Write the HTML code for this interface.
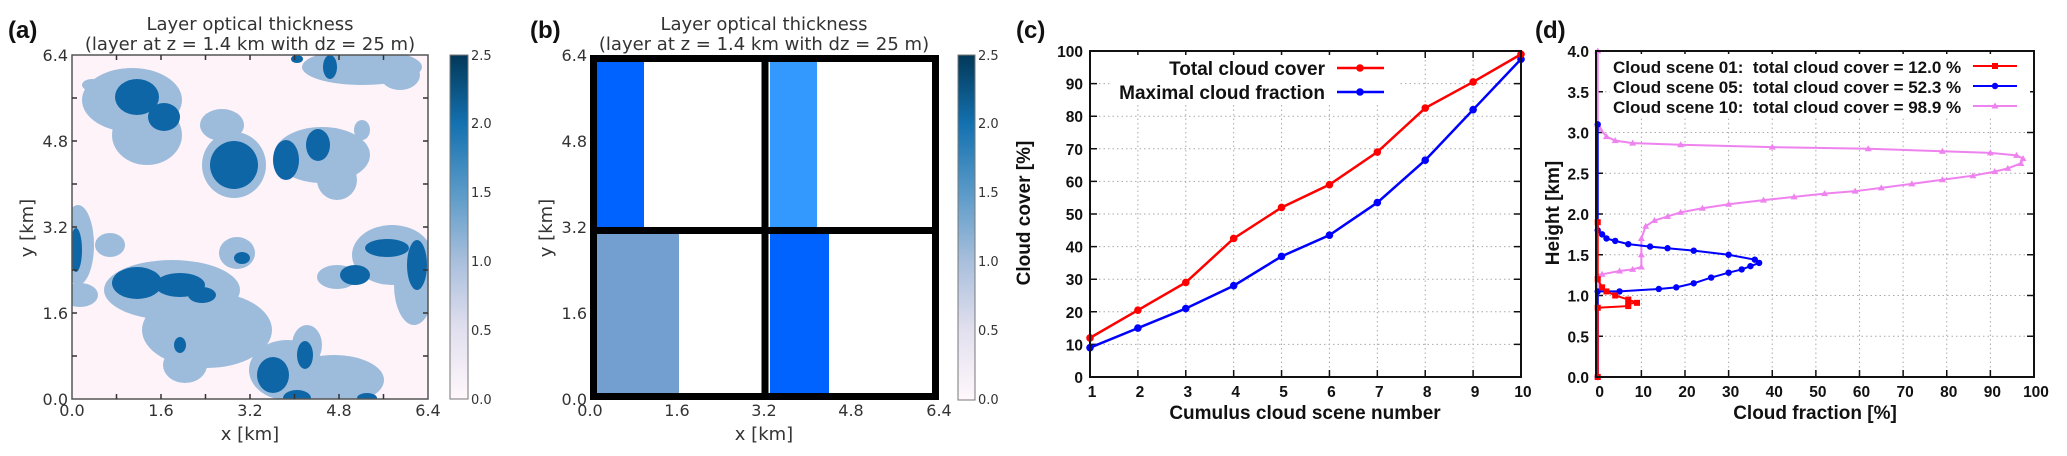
<!DOCTYPE html>
<html><head><meta charset="utf-8"><style>
html,body{margin:0;padding:0;background:#fff;width:2067px;height:456px;overflow:hidden}
svg{display:block}
.mt{font-family:"DejaVu Sans","Liberation Sans",sans-serif;fill:#333}
.gb{font-family:"Liberation Sans",sans-serif;font-weight:bold;fill:#111}
</style></head><body>
<svg id="fig" width="2067" height="456" viewBox="0 0 2067 456" xmlns="http://www.w3.org/2000/svg">
<defs>
<linearGradient id="pubu" x1="0" y1="1" x2="0" y2="0">
<stop offset="0" stop-color="#fff7fb"/><stop offset="0.2" stop-color="#e2e0ef"/><stop offset="0.4" stop-color="#a9bfdc"/><stop offset="0.6" stop-color="#5a9ac8"/><stop offset="0.8" stop-color="#1471b0"/><stop offset="1" stop-color="#023858"/>
</linearGradient>
</defs>

<!-- Panel A -->
<g>
<text class="gb" x="8" y="38" font-size="24">(a)</text>
<text class="mt" x="250" y="30" font-size="18" text-anchor="middle">Layer optical thickness</text>
<text class="mt" x="250" y="50" font-size="18" text-anchor="middle">(layer at z = 1.4 km with dz = 25 m)</text>
<svg x="72" y="55" width="356" height="344">
<rect width="356" height="344" fill="#fdf3f9"/>
<g fill="#9dbcdc">
<ellipse cx="60" cy="45" rx="50" ry="32"/><ellipse cx="75" cy="80" rx="35" ry="30"/><ellipse cx="20" cy="30" rx="10" ry="6"/>
<ellipse cx="162" cy="110" rx="32" ry="33"/><ellipse cx="150" cy="70" rx="22" ry="16"/>
<ellipse cx="250" cy="100" rx="48" ry="28"/><ellipse cx="265" cy="125" rx="20" ry="20"/><ellipse cx="290" cy="75" rx="8" ry="10"/>
<ellipse cx="290" cy="12" rx="60" ry="18"/><ellipse cx="328" cy="20" rx="20" ry="15"/>
<ellipse cx="6" cy="190" rx="16" ry="40"/><ellipse cx="8" cy="240" rx="18" ry="12"/><ellipse cx="38" cy="190" rx="15" ry="12"/>
<ellipse cx="100" cy="235" rx="68" ry="30"/><ellipse cx="135" cy="275" rx="65" ry="38"/><ellipse cx="113" cy="310" rx="22" ry="18"/>
<ellipse cx="320" cy="200" rx="40" ry="30"/><ellipse cx="342" cy="230" rx="20" ry="40"/><ellipse cx="265" cy="222" rx="20" ry="12"/>
<ellipse cx="165" cy="198" rx="18" ry="16"/>
<ellipse cx="215" cy="315" rx="38" ry="30"/><ellipse cx="262" cy="325" rx="50" ry="25"/><ellipse cx="235" cy="290" rx="15" ry="20"/>
</g>
<g fill="#0f66a6">
<ellipse cx="65" cy="42" rx="22" ry="18"/><ellipse cx="92" cy="62" rx="16" ry="14"/>
<ellipse cx="162" cy="110" rx="24" ry="24"/>
<ellipse cx="214" cy="105" rx="13" ry="20"/><ellipse cx="246" cy="90" rx="12" ry="16"/>
<ellipse cx="258" cy="12" rx="7" ry="12"/><ellipse cx="225" cy="4" rx="6" ry="4"/>
<ellipse cx="4" cy="195" rx="6" ry="22"/>
<ellipse cx="65" cy="228" rx="25" ry="16"/><ellipse cx="108" cy="230" rx="25" ry="12"/><ellipse cx="130" cy="240" rx="14" ry="8"/>
<ellipse cx="170" cy="203" rx="8" ry="6"/><ellipse cx="108" cy="290" rx="6" ry="8"/>
<ellipse cx="283" cy="220" rx="15" ry="10"/><ellipse cx="315" cy="193" rx="22" ry="9"/><ellipse cx="345" cy="210" rx="10" ry="25"/>
<ellipse cx="201" cy="320" rx="16" ry="18"/><ellipse cx="233" cy="300" rx="8" ry="14"/><ellipse cx="225" cy="343" rx="14" ry="8"/><ellipse cx="295" cy="343" rx="10" ry="5"/>
</g>
</svg>
<rect x="72" y="55" width="356" height="344" fill="none" stroke="#555" stroke-width="1.5"/>
<g stroke="#333" stroke-width="1.5">
<path d="M116.5 399v-5M161 399v-5M205.5 399v-5M250 399v-5M294.5 399v-5M339 399v-5M383.5 399v-5M116.5 55v5M161 55v5M205.5 55v5M250 55v5M294.5 55v5M339 55v5M383.5 55v5M72 98h5M72 141h5M72 184h5M72 227h5M72 270h5M72 313h5M72 356h5M428 98h-5M428 141h-5M428 184h-5M428 227h-5M428 270h-5M428 313h-5M428 356h-5"/>
</g>
<g class="mt" font-size="16">
<text x="72" y="416" text-anchor="middle">0.0</text><text x="161" y="416" text-anchor="middle">1.6</text><text x="250" y="416" text-anchor="middle">3.2</text><text x="339" y="416" text-anchor="middle">4.8</text><text x="428" y="416" text-anchor="middle">6.4</text>
</g>
<g class="mt" font-size="16" text-anchor="end">
<text x="68" y="405">0.0</text><text x="68" y="319">1.6</text><text x="68" y="233">3.2</text><text x="68" y="147">4.8</text><text x="68" y="61">6.4</text>
</g>
<text class="mt" x="250" y="440" font-size="18" text-anchor="middle">x [km]</text>
<text class="mt" x="0" y="0" font-size="18" text-anchor="middle" transform="translate(33,228) rotate(-90)">y [km]</text>
<rect x="450" y="55" width="18" height="344" fill="url(#pubu)" stroke="#777"/>
<g class="mt" font-size="13">
<text x="471" y="404">0.0</text><text x="471" y="335">0.5</text><text x="471" y="266">1.0</text><text x="471" y="197">1.5</text><text x="471" y="128">2.0</text><text x="471" y="60">2.5</text>
</g>
</g>

<!-- Panel B -->
<g>
<text class="gb" x="530" y="38" font-size="24">(b)</text>
<text class="mt" x="764" y="30" font-size="18" text-anchor="middle">Layer optical thickness</text>
<text class="mt" x="764" y="50" font-size="18" text-anchor="middle">(layer at z = 1.4 km with dz = 25 m)</text>
<rect x="590" y="55" width="349" height="345" fill="#fff"/>
<rect x="597" y="61" width="47" height="166" fill="#0062ff"/>
<rect x="770" y="61" width="47" height="166" fill="#3399ff"/>
<rect x="597" y="234" width="82" height="160" fill="#729fcf"/>
<rect x="770" y="234" width="59" height="160" fill="#0062ff"/>
<rect x="593.5" y="58.5" width="342" height="338" fill="none" stroke="#000" stroke-width="7"/>
<line x1="765" y1="58" x2="765" y2="398" stroke="#000" stroke-width="7"/>
<line x1="593" y1="230.5" x2="937" y2="230.5" stroke="#000" stroke-width="7"/>
<g class="mt" font-size="16">
<text x="590" y="416" text-anchor="middle">0.0</text><text x="677" y="416" text-anchor="middle">1.6</text><text x="764" y="416" text-anchor="middle">3.2</text><text x="851" y="416" text-anchor="middle">4.8</text><text x="939" y="416" text-anchor="middle">6.4</text>
</g>
<g class="mt" font-size="16" text-anchor="end">
<text x="587" y="405">0.0</text><text x="587" y="319">1.6</text><text x="587" y="233">3.2</text><text x="587" y="147">4.8</text><text x="587" y="61">6.4</text>
</g>
<text class="mt" x="764" y="440" font-size="18" text-anchor="middle">x [km]</text>
<text class="mt" x="0" y="0" font-size="18" text-anchor="middle" transform="translate(552,228) rotate(-90)">y [km]</text>
<rect x="958" y="55" width="17" height="345" fill="url(#pubu)" stroke="#777"/>
<g class="mt" font-size="13">
<text x="978" y="404">0.0</text><text x="978" y="335">0.5</text><text x="978" y="266">1.0</text><text x="978" y="197">1.5</text><text x="978" y="128">2.0</text><text x="978" y="60">2.5</text>
</g>
</g>

<!-- Panel C -->
<g id="pc">
<text class="gb" x="1016" y="38" font-size="24">(c)</text>
<text class="gb" x="0" y="0" font-size="19" text-anchor="middle" transform="translate(1030,213) rotate(-90)">Cloud cover [%]</text>
<text class="gb" x="1305" y="419" font-size="19" text-anchor="middle">Cumulus cloud scene number</text>
</g>

<!-- Panel D -->
<g id="pd">
<text class="gb" x="1535" y="38" font-size="24">(d)</text>
<text class="gb" x="0" y="0" font-size="19" text-anchor="middle" transform="translate(1559,213) rotate(-90)">Height [km]</text>
<text class="gb" x="1815" y="419" font-size="19" text-anchor="middle">Cloud fraction [%]</text>
</g>
</svg>
<script>
const scenes = [1,2,3,4,5,6,7,8,9,10];
const totalCover = [12,20.5,29,42.5,52,59,69,82.5,90.5,99];
const maxFraction = [9,15,21,28,37,43.5,53.5,66.5,82,97.5];
const cYTicks = [0,10,20,30,40,50,60,70,80,90,100];

const dXTicks = [0,10,20,30,40,50,60,70,80,90,100];
const dYTicks = [0,0.5,1.0,1.5,2.0,2.5,3.0,3.5,4.0];
const s01Frac = [0,0,7,7,9,7,4,2,1,0,0];
const s01Height = [0,0.85,0.87,0.9,0.91,0.95,1.0,1.05,1.1,1.2,1.9];
const s05Frac = [0,0,5,14,18,22,26,30,33,35,37,36,30,22,16,12,7,4,2,1,0,0];
const s05Height = [0,1.05,1.05,1.08,1.1,1.15,1.22,1.28,1.32,1.36,1.4,1.44,1.5,1.55,1.58,1.6,1.63,1.67,1.7,1.75,1.8,3.1];
const s10Frac = [0,0,1,5,8,10,10,10,11,13,16,19,24,30,38,45,52,59,65,72,79,86,91,94,97,97.5,96,90,79,62,40,19,8,4,2,0.5,0,0];
const s10Height = [0,1.25,1.26,1.3,1.32,1.35,1.5,1.7,1.85,1.92,1.97,2.02,2.07,2.12,2.17,2.21,2.25,2.28,2.32,2.37,2.42,2.47,2.52,2.56,2.62,2.68,2.72,2.75,2.77,2.8,2.82,2.85,2.87,2.9,2.95,3.05,3.1,4.0];

const NS='http://www.w3.org/2000/svg';
function mk(parent,tag,attrs){const e=document.createElementNS(NS,tag);for(const k in attrs)e.setAttribute(k,attrs[k]);parent.appendChild(e);return e;}

// Panel C
const pc=document.getElementById('pc');
const cL=1090,cR=1521,cT=51,cB=377;
const cx=v=>cL+(v-1)/9*(cR-cL);
const cy=v=>cB-v/100*(cB-cT);
cYTicks.forEach(t=>{
  const g=mk(pc,'line',{x1:cL,x2:cR,y1:cy(t),y2:cy(t),stroke:'#aaa','stroke-dasharray':'1.5,3'});
  
  
  const tm=mk(pc,'path',{d:`M${cL} ${cy(t)}h7M${cR} ${cy(t)}h-7`,stroke:'#111','stroke-width':1.5});
  
  
  const tx=mk(pc,'text',{x:1083,y:cy(t)+6,'text-anchor':'end','font-size':15.5,class:'gb'});tx.textContent=t;
  
  
});
scenes.forEach(s=>{
  if(s>1&&s<10){const g=mk(pc,'line',{x1:cx(s),x2:cx(s),y1:cT,y2:cB,stroke:'#aaa','stroke-dasharray':'1.5,3'});
  
  }
  const tm=mk(pc,'path',{d:`M${cx(s)} ${cB}v-7M${cx(s)} ${cT}v7`,stroke:'#111','stroke-width':1.5});
  
  
  const tx=mk(pc,'text',{x:cx(s)+2,y:397,'text-anchor':'middle','font-size':15.5,class:'gb'});tx.textContent=s;
  
  
});
const lgBg=mk(pc,'rect',{x:1110,y:55,width:290,height:50,fill:'#fff'});


function cSeries(vals,color,name){
  const pts=scenes.map((s,i)=>cx(s)+','+cy(vals[i])).join(' ');
  const pl=mk(pc,'polyline',{points:pts,fill:'none',stroke:color,'stroke-width':2.5});
  
  
  scenes.forEach((s,i)=>{const c=mk(pc,'circle',{cx:cx(s),cy:cy(vals[i]),r:3.8,fill:color});
    
    });
}
cSeries(maxFraction,'#0000ff','maximal-cloud-fraction');
cSeries(totalCover,'#ff0000','total-cloud-cover');
[['Total cloud cover','#ff0000',75],['Maximal cloud fraction','#0000ff',99]].forEach(([lab,col,y])=>{
  const g=mk(pc,'g',{});
  
  
  const t=mk(g,'text',{x:1325,y:y,'text-anchor':'end','font-size':19,class:'gb'});t.textContent=lab;
  mk(g,'line',{x1:1337,x2:1384,y1:y-7,y2:y-7,stroke:col,'stroke-width':2.5});
  mk(g,'circle',{cx:1360,cy:y-7,r:3.8,fill:col});
});
const cf=mk(pc,'rect',{x:cL,y:cT,width:cR-cL,height:cB-cT,fill:'none',stroke:'#111','stroke-width':2});



// Panel D
const pd=document.getElementById('pd');
const dL=1596,dR=2034,dT=51,dB=377,dMin=-0.4;
const dx=v=>dL+(v-dMin)/(100-dMin)*(dR-dL);
const dy=v=>dB-v/4*(dB-dT);
dYTicks.forEach(t=>{
  if(t>0&&t<4){const g=mk(pd,'line',{x1:dL,x2:dR,y1:dy(t),y2:dy(t),stroke:'#aaa','stroke-dasharray':'1.5,3'});
  
  }
  const tm=mk(pd,'path',{d:`M${dL} ${dy(t)}h7M${dR} ${dy(t)}h-7`,stroke:'#111','stroke-width':1.5});
  
  
  const tx=mk(pd,'text',{x:1589,y:dy(t)+6,'text-anchor':'end','font-size':15.5,class:'gb'});tx.textContent=t.toFixed(1);
  
  
});
dXTicks.forEach(t=>{
  if(t>0&&t<100){const g=mk(pd,'line',{x1:dx(t),x2:dx(t),y1:dT,y2:dB,stroke:'#aaa','stroke-dasharray':'1.5,3'});
  
  }
  const tm=mk(pd,'path',{d:`M${dx(t)} ${dB}v-7M${dx(t)} ${dT}v7`,stroke:'#111','stroke-width':1.5});
  
  
  const tx=mk(pd,'text',{x:dx(t)+2,y:397,'text-anchor':'middle','font-size':15.5,class:'gb'});tx.textContent=t;
  
  
});
const dlBg=mk(pd,'rect',{x:1610,y:54,width:420,height:63,fill:'#fff'});


function dSeries(fr,h,color,name,marker){
  const pts=fr.map((f,i)=>dx(f)+','+dy(h[i])).join(' ');
  const pl=mk(pd,'polyline',{points:pts,fill:'none',stroke:color,'stroke-width':2});
  
  
  fr.forEach((f,i)=>{
    let m;
    if(marker==='sq') m=mk(pd,'rect',{x:dx(f)-3,y:dy(h[i])-3,width:6,height:6,fill:color});
    else if(marker==='tri') m=mk(pd,'polygon',{points:`${dx(f)},${dy(h[i])-3.5} ${dx(f)-3.5},${dy(h[i])+2.5} ${dx(f)+3.5},${dy(h[i])+2.5}`,fill:color});
    else m=mk(pd,'circle',{cx:dx(f),cy:dy(h[i]),r:3.2,fill:color});
    
    
  });
}
dSeries(s10Frac,s10Height,'#ee82ee','scene-10-profile','tri');
dSeries(s05Frac,s05Height,'#0000ff','scene-05-profile','circ');
dSeries(s01Frac,s01Height,'#ff0000','scene-01-profile','sq');
[['Cloud scene 01:  total cloud cover = 12.0 %','#ff0000',73,'sq'],['Cloud scene 05:  total cloud cover = 52.3 %','#0000ff',93,'circ'],['Cloud scene 10:  total cloud cover = 98.9 %','#ee82ee',113,'tri']].forEach(([lab,col,y,mkr])=>{
  const g=mk(pd,'g',{});
  
  
  const t=mk(g,'text',{x:1613,y:y,'font-size':17,class:'gb'});t.textContent=lab;t.style.whiteSpace='pre';
  mk(g,'line',{x1:1973,x2:2017,y1:y-7,y2:y-7,stroke:col,'stroke-width':2});
  if(mkr==='sq') mk(g,'rect',{x:1992,y:y-10,width:6,height:6,fill:col});
  else if(mkr==='circ') mk(g,'circle',{cx:1995,cy:y-7,r:3.2,fill:col});
  else mk(g,'polygon',{points:`1995,${y-10.5} 1991.5,${y-4.5} 1998.5,${y-4.5}`,fill:col});
});
const df=mk(pd,'rect',{x:dL,y:dT,width:dR-dL,height:dB-dT,fill:'none',stroke:'#111','stroke-width':2});


</script>
</body></html>
